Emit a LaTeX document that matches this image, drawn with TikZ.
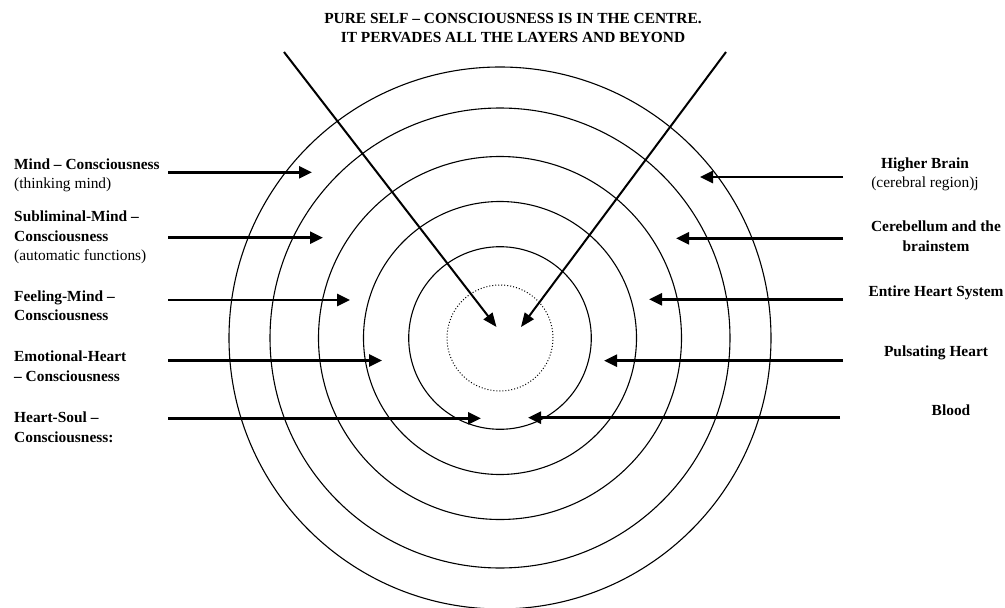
\documentclass[tikz,border=0pt]{standalone}
\usepackage{fontspec}
\setmainfont{Liberation Serif}
\usetikzlibrary{arrows.meta}
\begin{document}
\begin{tikzpicture}[x=1pt,y=-1pt,
  lbl/.style={inner sep=0pt,font=\fontsize{15.4}{19.4}\selectfont\bfseries},
  llbl/.style={lbl,anchor=base west,align=left},
  rlbl/.style={lbl,anchor=base,align=center},
  ring/.style={draw=black,line width=1.1pt},
  harrow/.style={line width=2.6pt,-{Triangle[length=13pt,width=12pt]}},
  darrow/.style={line width=2pt,-{Triangle[length=14pt,width=11pt]}}]
\useasboundingbox (0,0) rectangle (1005,608);
% rings
\coordinate (c) at (500,338);
\draw[ring] (c) circle (271pt);
\draw[ring] (c) circle (230pt);
\draw[ring] (c) circle (181.5pt);
\draw[ring] (c) circle (136.5pt);
\draw[ring] (c) circle (91.3pt);
\draw[line width=1pt,dash pattern=on 1pt off 2pt] (c) circle (53pt);
% title (anchor = baseline of last line)
\node[rlbl] (title) at (513,42.7) {PURE SELF -- CONSCIOUSNESS IS IN THE CENTRE.\\IT PERVADES ALL THE LAYERS AND BEYOND};
% left labels
\node[llbl] (mind) at (14,188.7) {Mind -- Consciousness\\\mdseries(thinking mind)};
\node[llbl] (subl) at (14,260.5) {Subliminal-Mind --\\Consciousness\\\mdseries(automatic functions)};
\node[llbl] (feel) at (14,320.4) {Feeling-Mind --\\Consciousness};
\node[llbl] (emot) at (14,381.1) {Emotional-Heart\\-- Consciousness};
\node[llbl] (soul) at (14,442.1) {Heart-Soul --\\Consciousness:};
% right labels
\node[rlbl] (brain) at (925,187.7) {Higher Brain\\\mdseries(cerebral region)j};
\node[rlbl] (cereb) at (936,251.1) {Cerebellum and the\\brainstem};
\node[rlbl] (heartsys) at (936,296) {Entire Heart System};
\node[rlbl] (puls) at (936,356.7) {Pulsating Heart};
\node[rlbl] (blood) at (951,415) {Blood};
% arrow coordinates
\coordinate (mindS) at (168,172.3);  \coordinate (mindT) at (312,172.3);
\coordinate (sublS) at (168,237.7);  \coordinate (sublT) at (323,237.7);
\coordinate (feelS) at (168,300);    \coordinate (feelT) at (350,300);
\coordinate (emotS) at (168,360.5);  \coordinate (emotT) at (382,360.5);
\coordinate (soulS) at (168,418.3);  \coordinate (soulT) at (481,418.3);
\coordinate (brainS) at (843,177);   \coordinate (brainT) at (700,177);
\coordinate (cerebS) at (843,238.3); \coordinate (cerebT) at (676,238.3);
\coordinate (hsS) at (843,299.3);    \coordinate (hsT) at (649,299.3);
\coordinate (pulsS) at (843,360.7);  \coordinate (pulsT) at (604,360.7);
\coordinate (bloodS) at (840,417.7); \coordinate (bloodT) at (528,417.7);
\coordinate (dlS) at (284,52);       \coordinate (dlT) at (496.5,327);
\coordinate (drS) at (726,52);       \coordinate (drT) at (521,327);
\foreach \a in {mind,subl,feel,emot,soul,brain,cereb,hs,puls,blood}
  \draw[harrow] (\a S) -- (\a T);
\draw[darrow] (dlS) -- (dlT);
\draw[darrow] (drS) -- (drT);
\end{tikzpicture}
\end{document}
